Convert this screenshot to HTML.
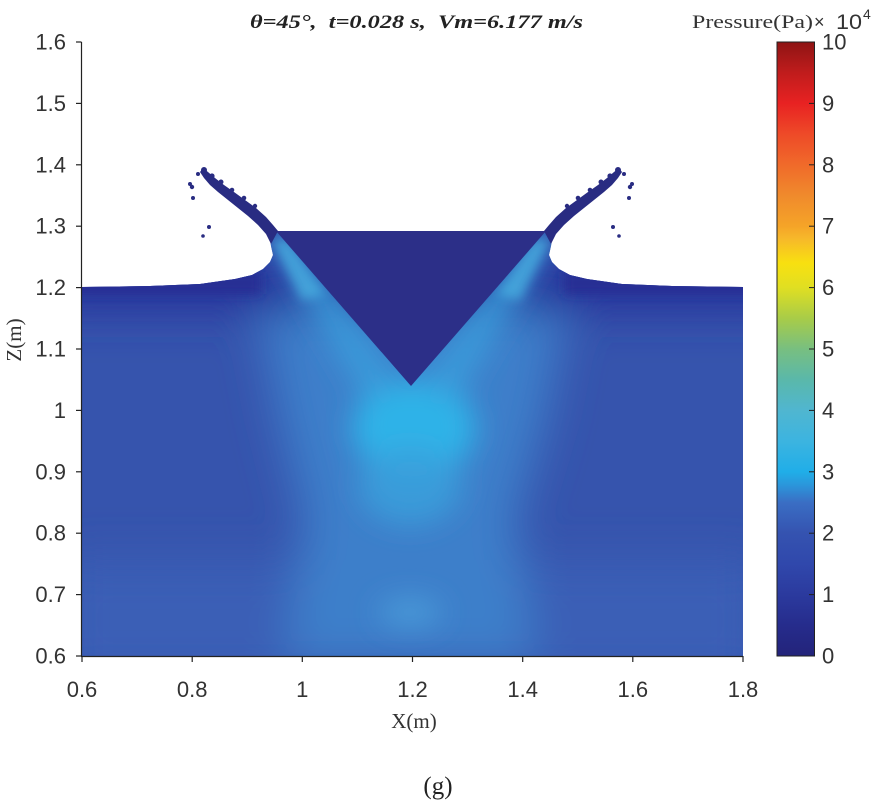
<!DOCTYPE html>
<html><head><meta charset="utf-8"><style>
html,body{margin:0;padding:0;background:#fff;}
svg{display:block;}
</style></head><body>
<svg width="876" height="807" viewBox="0 0 876 807" xmlns="http://www.w3.org/2000/svg">
<defs>
  <clipPath id="water">
    <path d="M82,287 L150,286 L200,284 L235,279 L252,275 L263,269 L270,262 L273,255 L271,246 L270,240 L276,231 L546,231 L552,240 L551,246 L549,255 L552,262 L559,269 L570,275 L587,279 L622,284 L672,286 L743,287 L743,656 L82,656 Z"/>
  </clipPath>
  <filter id="b25" x="-50%" y="-50%" width="200%" height="200%"><feGaussianBlur stdDeviation="22"/></filter>
  <filter id="b12" x="-50%" y="-50%" width="200%" height="200%"><feGaussianBlur stdDeviation="14"/></filter>
  <filter id="b6" x="-50%" y="-50%" width="200%" height="200%"><feGaussianBlur stdDeviation="5"/></filter>
  <linearGradient id="cb" x1="0" y1="1" x2="0" y2="0">
    <stop offset="0" stop-color="#23237a"/>
    <stop offset="0.05" stop-color="#262c8c"/>
    <stop offset="0.1" stop-color="#2b3a9e"/>
    <stop offset="0.15" stop-color="#3048ac"/>
    <stop offset="0.2" stop-color="#3553b0"/>
    <stop offset="0.25" stop-color="#3a6ec4"/>
    <stop offset="0.28" stop-color="#2a98dc"/>
    <stop offset="0.3" stop-color="#20aee8"/>
    <stop offset="0.35" stop-color="#3cb4e0"/>
    <stop offset="0.4" stop-color="#50b6d0"/>
    <stop offset="0.45" stop-color="#5ab8aa"/>
    <stop offset="0.5" stop-color="#78bf80"/>
    <stop offset="0.55" stop-color="#a8cc48"/>
    <stop offset="0.6" stop-color="#e0df22"/>
    <stop offset="0.64" stop-color="#f8e010"/>
    <stop offset="0.68" stop-color="#f7b82a"/>
    <stop offset="0.7" stop-color="#f5a428"/>
    <stop offset="0.75" stop-color="#f08a2c"/>
    <stop offset="0.8" stop-color="#f06a2a"/>
    <stop offset="0.85" stop-color="#ee4a28"/>
    <stop offset="0.9" stop-color="#e82222"/>
    <stop offset="0.95" stop-color="#c01c1c"/>
    <stop offset="1" stop-color="#8e1414"/>
  </linearGradient>
</defs>

<!-- Field -->
<g clip-path="url(#water)">
  <rect x="82" y="225" width="661" height="432" fill="#3654ad"/>
  <g filter="url(#b25)">
    <rect x="60" y="560" width="700" height="120" fill="#3a5fb6"/>
    <polygon points="255,290 570,290 545,420 515,520 535,660 285,660 305,520 280,420" fill="#3d7fca"/>
    <rect x="40" y="255" width="760" height="55" fill="#28329a"/>
  </g>
  <g filter="url(#b12)">
    <ellipse cx="414" cy="428" rx="62" ry="50" fill="#2fb3e8"/>
    <ellipse cx="410" cy="485" rx="52" ry="40" fill="#3aa0dc" opacity="0.85"/>
    <ellipse cx="410" cy="612" rx="32" ry="14" fill="#4a9ad8"/>
    <polygon points="268,235 295,235 405,390 365,400" fill="#3a9edc" opacity="0.85"/>
    <polygon points="554,235 527,235 417,390 457,400" fill="#3a9edc" opacity="0.85"/>
  </g>
  <g filter="url(#b6)">
    <polygon points="272,240 288,240 325,295 302,300" fill="#4ab4e2" opacity="0.7"/>
    <polygon points="550,240 534,240 497,295 520,300" fill="#4ab4e2" opacity="0.7"/>
    <rect x="60" y="272" width="200" height="22" fill="#262e94"/>
    <rect x="565" y="272" width="200" height="22" fill="#262e94"/>
  </g>
</g>

<!-- Wedge -->
<polygon points="276,231 546,231 411,386" fill="#2c2f88"/>

<!-- Splash left -->
<g fill="#292c82">
  <path d="M271,244 L266,234 L258,225 L248,216 L238,208 L228,200 L218,192 L210,185 L204,178 L200,172 L203,168 L208,172 L215,178 L224,185 L234,192 L245,200 L256,208 L266,217 L273,225 L278,231 Z"/>
  <circle cx="204" cy="170" r="3"/><circle cx="212" cy="176" r="2.6"/>
  <circle cx="221" cy="182" r="2.5"/><circle cx="232" cy="190" r="2.3"/>
  <circle cx="244" cy="198" r="2.3"/><circle cx="255" cy="206" r="2.2"/>
  <circle cx="198" cy="174" r="2"/>
  <circle cx="192" cy="187" r="2.2"/><circle cx="193" cy="198" r="2"/>
  <circle cx="209" cy="227" r="2"/><circle cx="203" cy="236" r="1.8"/>
  <circle cx="190" cy="184" r="2"/>
</g>
<!-- Splash right (mirror) -->
<g fill="#292c82" transform="translate(822,0) scale(-1,1)">
  <path d="M271,244 L266,234 L258,225 L248,216 L238,208 L228,200 L218,192 L210,185 L204,178 L200,172 L203,168 L208,172 L215,178 L224,185 L234,192 L245,200 L256,208 L266,217 L273,225 L278,231 Z"/>
  <circle cx="204" cy="170" r="3"/><circle cx="212" cy="176" r="2.6"/>
  <circle cx="221" cy="182" r="2.5"/><circle cx="232" cy="190" r="2.3"/>
  <circle cx="244" cy="198" r="2.3"/><circle cx="255" cy="206" r="2.2"/>
  <circle cx="198" cy="174" r="2"/>
  <circle cx="192" cy="187" r="2.2"/><circle cx="193" cy="198" r="2"/>
  <circle cx="209" cy="227" r="2"/><circle cx="203" cy="236" r="1.8"/>
  <circle cx="190" cy="184" r="2"/>
</g>

<!-- Axes -->
<g stroke="#222" stroke-width="1.2" fill="none">
  <line x1="81.5" y1="42" x2="81.5" y2="656.5"/>
  <line x1="81" y1="656.5" x2="743" y2="656.5"/>
  <line x1="76" y1="42" x2="81.5" y2="42"/>
  <line x1="76" y1="103.4" x2="81.5" y2="103.4"/>
  <line x1="76" y1="164.8" x2="81.5" y2="164.8"/>
  <line x1="76" y1="226.2" x2="81.5" y2="226.2"/>
  <line x1="76" y1="287.6" x2="81.5" y2="287.6"/>
  <line x1="76" y1="349" x2="81.5" y2="349"/>
  <line x1="76" y1="410.4" x2="81.5" y2="410.4"/>
  <line x1="76" y1="471.8" x2="81.5" y2="471.8"/>
  <line x1="76" y1="533.2" x2="81.5" y2="533.2"/>
  <line x1="76" y1="594.6" x2="81.5" y2="594.6"/>
  <line x1="76" y1="656" x2="81.5" y2="656"/>
  <line x1="82" y1="656" x2="82" y2="662"/>
  <line x1="192.2" y1="656" x2="192.2" y2="662"/>
  <line x1="302.3" y1="656" x2="302.3" y2="662"/>
  <line x1="412.5" y1="656" x2="412.5" y2="662"/>
  <line x1="522.7" y1="656" x2="522.7" y2="662"/>
  <line x1="632.8" y1="656" x2="632.8" y2="662"/>
  <line x1="743" y1="656" x2="743" y2="662"/>
</g>

<g font-family="'Liberation Sans', Arial, sans-serif" font-size="22" fill="#333" text-anchor="end">
  <text x="66" y="49.5">1.6</text>
  <text x="66" y="110.9">1.5</text>
  <text x="66" y="172.3">1.4</text>
  <text x="66" y="233.7">1.3</text>
  <text x="66" y="295.1">1.2</text>
  <text x="66" y="356.5">1.1</text>
  <text x="66" y="417.9">1</text>
  <text x="66" y="479.3">0.9</text>
  <text x="66" y="540.7">0.8</text>
  <text x="66" y="602.1">0.7</text>
  <text x="66" y="663.5">0.6</text>
</g>
<g font-family="'Liberation Sans', Arial, sans-serif" font-size="22" fill="#333" text-anchor="middle">
  <text x="82" y="697">0.6</text>
  <text x="192.2" y="697">0.8</text>
  <text x="302.3" y="697">1</text>
  <text x="412.5" y="697">1.2</text>
  <text x="522.7" y="697">1.4</text>
  <text x="632.8" y="697">1.6</text>
  <text x="743" y="697">1.8</text>
</g>

<!-- Axis labels -->
<text x="414" y="728" font-family="'Liberation Serif', 'Times New Roman', serif" font-size="21" fill="#333" text-anchor="middle">X(m)</text>
<text transform="translate(21,340) rotate(-90)" font-family="'Liberation Serif', 'Times New Roman', serif" font-size="21" fill="#333" text-anchor="middle">Z(m)</text>
<text x="438" y="794" font-family="'Liberation Serif', 'Times New Roman', serif" font-size="25" fill="#222" text-anchor="middle">(g)</text>

<!-- Title -->
<text x="250" y="28" font-family="'Liberation Serif', 'Times New Roman', serif" font-size="19" font-weight="bold" font-style="italic" fill="#222" textLength="333" lengthAdjust="spacingAndGlyphs" xml:space="preserve">θ=45°,  t=0.028 s,  Vm=6.177 m/s</text>

<!-- Colorbar -->
<rect x="777" y="42" width="37.5" height="614" fill="url(#cb)" stroke="#222" stroke-width="1"/>
<g stroke="#222" stroke-width="1">
  <line x1="809" y1="103.4" x2="814.5" y2="103.4"/>
  <line x1="809" y1="164.8" x2="814.5" y2="164.8"/>
  <line x1="809" y1="226.2" x2="814.5" y2="226.2"/>
  <line x1="809" y1="287.6" x2="814.5" y2="287.6"/>
  <line x1="809" y1="349" x2="814.5" y2="349"/>
  <line x1="809" y1="410.4" x2="814.5" y2="410.4"/>
  <line x1="809" y1="471.8" x2="814.5" y2="471.8"/>
  <line x1="809" y1="533.2" x2="814.5" y2="533.2"/>
  <line x1="809" y1="594.6" x2="814.5" y2="594.6"/>
</g>
<g font-family="'Liberation Sans', Arial, sans-serif" font-size="22" fill="#333">
  <text x="822" y="49.5">10</text>
  <text x="822" y="110.9">9</text>
  <text x="822" y="172.3">8</text>
  <text x="822" y="233.7">7</text>
  <text x="822" y="295.1">6</text>
  <text x="822" y="356.5">5</text>
  <text x="822" y="417.9">4</text>
  <text x="822" y="479.3">3</text>
  <text x="822" y="540.7">2</text>
  <text x="822" y="602.1">1</text>
  <text x="822" y="663.5">0</text>
</g>
<text x="692" y="28" font-family="'Liberation Serif', 'Times New Roman', serif" font-size="19" fill="#333" textLength="121" lengthAdjust="spacingAndGlyphs">Pressure(Pa)</text>
<text x="814" y="28" font-family="'Liberation Sans', Arial, sans-serif" font-size="18" fill="#333">×</text>
<text x="836" y="29" font-family="'Liberation Sans', Arial, sans-serif" font-size="21" fill="#333" textLength="26" lengthAdjust="spacingAndGlyphs">10</text>
<text x="863" y="19" font-family="'Liberation Sans', Arial, sans-serif" font-size="14" fill="#333">4</text>
</svg>
</body></html>
